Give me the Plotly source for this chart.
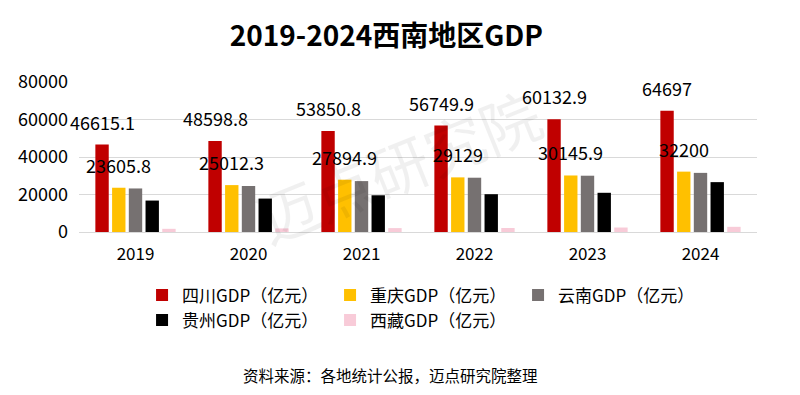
import plotly.graph_objects as go

years = ["2019", "2020", "2021", "2022", "2023", "2024"]
sichuan = [46615.1, 48598.8, 53850.8, 56749.9, 60132.9, 64697]
chongqing = [23605.8, 25012.3, 27894.9, 29129, 30145.9, 32200]
yunnan = [23223.8, 24521.9, 27146.8, 28954.2, 30021.1, 31534.1]
guizhou = [16769.3, 17826.6, 19586.4, 20164.6, 20913.3, 26600]
xizang = [1697.8, 1902.7, 2080.2, 2132.6, 2392.7, 2764.9]

series_names = ["四川GDP（亿元）", "重庆GDP（亿元）", "云南GDP（亿元）", "贵州GDP（亿元）", "西藏GDP（亿元）"]
series_values = [sichuan, chongqing, yunnan, guizhou, xizang]
series_colors = ["#c00000", "#ffc000", "#767171", "#000000", "#f8cbd8"]
labelled = [True, True, False, False, False]

FONT = "Microsoft YaHei, Noto Sans CJK SC, sans-serif"
W, H = 800, 395
ML, MR, MT, MB = 79, 43, 82, 163
BARGAP = 0.26

fig = go.Figure()
for name, vals, col in zip(series_names, series_values, series_colors):
    fig.add_trace(go.Bar(
        x=years, y=vals, name=name, marker=dict(color=col, line=dict(width=0)),
        hoverinfo="x+y+name",
    ))

# value labels above the labelled series (offset to each bar slot)
plot_w = W - ML - MR
slot = plot_w / len(years) * (1 - BARGAP) / len(series_values)
annotations = []
for i, (vals, lab) in enumerate(zip(series_values, labelled)):
    if not lab:
        continue
    for j, v in enumerate(vals):
        annotations.append(dict(
            x=j, y=v, xref="x", yref="y", text=f"{v:g}", showarrow=False,
            xshift=(i - (len(series_values) - 1) / 2) * slot, yshift=23,
            xanchor="center", yanchor="middle",
            font=dict(size=18, color="#000000", family=FONT)))

annotations += [
    dict(text="迈点研究院", xref="paper", yref="paper", x=0.47, y=0.45,
         showarrow=False, textangle=-22,
         font=dict(size=60, color="rgba(0,0,0,0.06)", family=FONT)),
    dict(text="资料来源：各地统计公报，迈点研究院整理", xref="paper", yref="paper",
         x=0.459, y=-0.953, xanchor="center", yanchor="middle", showarrow=False,
         font=dict(size=15.5, color="#000000", family=FONT)),
]

fig.update_layout(
    width=W, height=H,
    paper_bgcolor="white", plot_bgcolor="white",
    barmode="group", bargap=BARGAP, bargroupgap=0.2,
    margin=dict(l=ML, r=MR, t=MT, b=MB, autoexpand=False),
    title=dict(text="<b>2019-2024西南地区GDP</b>", x=0.483, xanchor="center",
               y=0.909, yanchor="middle",
               font=dict(size=28, color="#000000", family=FONT)),
    font=dict(family=FONT, color="#000000"),
    xaxis=dict(type="category", range=[-0.5, len(years) - 0.5], showgrid=False,
               showline=False, ticks="", tickfont=dict(size=17), ticklabelstandoff=10),
    yaxis=dict(range=[0, 80000], dtick=20000, showgrid=True, gridcolor="#d9d9d9",
               gridwidth=1, zeroline=True, zerolinecolor="#d9d9d9", zerolinewidth=1,
               showline=False, ticks="", tickfont=dict(size=18), ticklabelstandoff=10,
               tickformat="d"),
    legend=dict(orientation="h", x=0.093, xanchor="left", y=-0.303, yanchor="top",
                font=dict(size=17, family=FONT), entrywidth=143, entrywidthmode="pixels",
                traceorder="normal", itemclick=False),
    annotations=annotations,
)

fig.write_html("out.html", config={"displayModeBar": False},
               post_script="document.body.style.margin='0';")
